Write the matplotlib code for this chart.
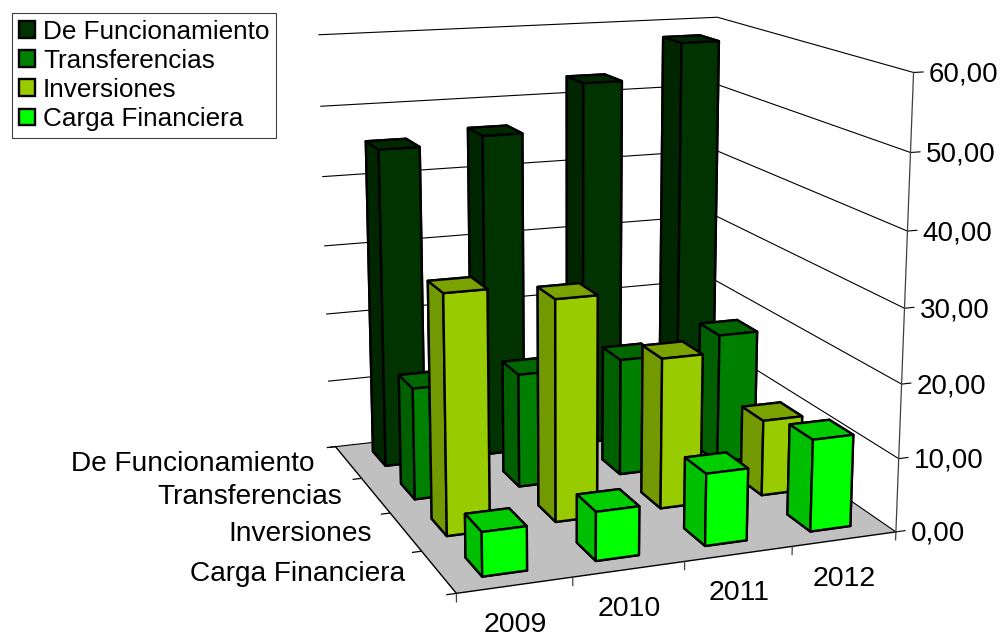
import matplotlib
matplotlib.use('Agg')
import matplotlib.pyplot as plt
import numpy as np
from matplotlib.patches import Patch
from mpl_toolkits.mplot3d import proj3d
from mpl_toolkits.mplot3d.art3d import Poly3DCollection

plt.rcParams['font.family'] = ['Liberation Sans', 'DejaVu Sans']

years = ['2009', '2010', '2011', '2012']
series = ['De Funcionamiento', 'Transferencias', 'Inversiones', 'Carga Financiera']
de_funcionamiento = [45.4, 46.4, 53.0, 58.0]
transferencias = [15.6, 16.0, 16.6, 18.7]
inversiones = [32.3, 30.2, 20.8, 10.6]
carga_financiera = [5.8, 6.5, 9.7, 12.5]
values = [de_funcionamiento, transferencias, inversiones, carga_financiera]
colors = ['#003300', '#008000', '#99CC00', '#00FF00']
z_ticks = [0, 10, 20, 30, 40, 50, 60]
z_labels = ['0,00', '10,00', '20,00', '30,00', '40,00', '50,00', '60,00']

S = 1400
fig = plt.figure(figsize=(10.01, 6.38), dpi=100)
ax = fig.add_axes([(581.67 - S / 2) / 1001, (344.04 - S / 2) / 638, S / 1001, S / 638],
                  projection='3d', computed_zorder=False)
ax.view_init(13.7966, -110.965, -0.195)
ax.set_proj_type('persp', focal_length=0.2825)
ax.set_box_aspect((0.9929, 0.9898, 1), zoom=0.5339)
ax.set_xticks([])
ax.set_yticks([])
ax.set_zticks([])
ax.set_axis_off()

n_x = len(years)
n_y = len(series)
z_top = z_ticks[-1]


def shade(color, factor):
    r, g, b = matplotlib.colors.to_rgb(color)
    return (r * factor, g * factor, b * factor)


# piso
floor = Poly3DCollection([[(0, 0, 0), (n_x, 0, 0), (n_x, n_y, 0), (0, n_y, 0)]],
                         facecolor='#C0C0C0', edgecolor='none', zorder=1)
ax.add_collection3d(floor)

# lineas de las paredes
for z in z_ticks:
    ax.plot([-0.05, n_x, n_x, n_x + 0.09], [n_y, n_y, 0, 0], [z, z, z, z],
            color='black', lw=0.8, zorder=2)
ax.plot([n_x, n_x], [0, 0], [0, z_top], color='#404040', lw=0.9, zorder=2)
ax.plot([0, n_x], [0, 0], [0, 0], color='black', lw=1.0, zorder=2)
ax.plot([0, 0], [0, n_y], [0, 0], color='black', lw=1.0, zorder=2)

# marcas de los ejes
for i in range(n_x + 1):
    ax.plot([i, i], [0, 0], [0, -1.1], color='#404040', lw=0.9, zorder=2)
for j in range(n_y + 1):
    ax.plot([0, -0.08], [j, j], [0, 0], color='black', lw=0.9, zorder=2)

# barras, de atras hacia adelante
bar_w = 0.39
bar_d = 0.46
order = 10
for j in range(n_y):
    row_y = n_y - 1 - j
    for i in range(n_x - 1, -1, -1):
        c = colors[j]
        top = shade(c, 0.8)
        side = shade(c, 0.75)
        # -z, +z, -y, +y, -x, +x
        face = [side, top, c, c, side, c]
        bar = ax.bar3d(i + 0.5 - bar_w / 2, row_y + 0.5 - bar_d / 2, 0,
                       bar_w, bar_d, values[j][i],
                       color=face, edgecolor='black', linewidth=1.7, shade=False)
        bar.set_zorder(order)
        order += 1

ax.set_xlim(0, n_x)
ax.set_ylim(0, n_y)
ax.set_zlim(0, z_top)


# texto anclado a un punto 3D, con desplazamiento en pixeles
def label_at(x, y, z, text, dx, dy, size, ha):
    xp, yp, _ = proj3d.proj_transform(x, y, z, ax.get_proj())
    ax.annotate(text, xy=(xp, yp), xycoords='data', xytext=(dx * 0.72, dy * 0.72),
                textcoords='offset points', fontsize=size, ha=ha, va='center', zorder=200)


for z, label in zip(z_ticks, z_labels):
    label_at(n_x, 0, z, label, 15, -2, 20, 'left')
for i, year in enumerate(years):
    label_at(i + 0.5, 0, 0, year, 0, -39.5, 20.5, 'center')
for j, name in enumerate(series):
    label_at(0, n_y - 1 - j + 0.5, 0, name, -33.5, -2, 20.2, 'right')

handles = [Patch(facecolor=c, edgecolor='black', linewidth=1.7) for c in colors]
leg = fig.legend(handles, series, loc='upper left', bbox_to_anchor=(12 / 1001, 1 - 13 / 638),
                 fontsize=18.8, frameon=True, fancybox=False, edgecolor='#404040',
                 framealpha=1, borderpad=0.25, labelspacing=0.2, handlelength=0.62,
                 handleheight=0.62, handletextpad=0.32, borderaxespad=0)
leg.get_frame().set_linewidth(0.8)

fig.savefig('out.png', dpi=100)
